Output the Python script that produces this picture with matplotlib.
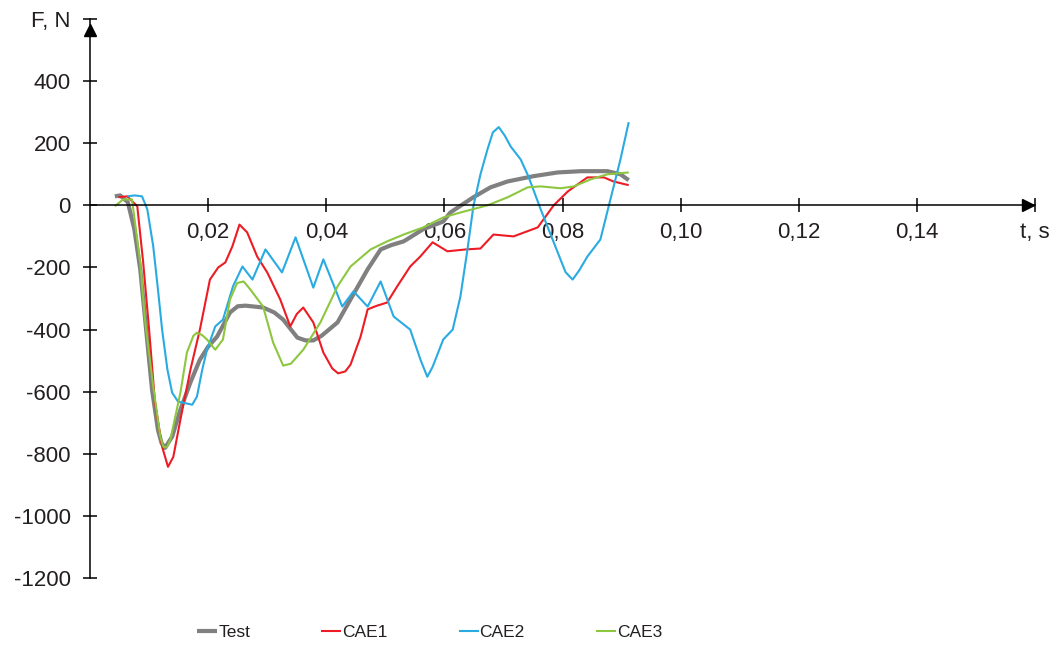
import matplotlib
matplotlib.use("Agg")
import matplotlib.pyplot as plt
from matplotlib.transforms import offset_copy

# ── data ────────────────────────────────────────────────────────────────────
test_t = [0.0042, 0.0051, 0.0064, 0.0075, 0.0085, 0.0095, 0.0105, 0.0115,
          0.0121, 0.0127, 0.0139, 0.0153, 0.0170, 0.0186, 0.0200, 0.0215,
          0.0237, 0.0250, 0.0263, 0.0293, 0.0312, 0.0327, 0.0351, 0.0365,
          0.0378, 0.0392, 0.0419, 0.0441, 0.0470, 0.0492, 0.0510, 0.0531,
          0.0564, 0.0598, 0.0610, 0.0649, 0.0678, 0.0707, 0.0751, 0.0792,
          0.0831, 0.0876, 0.0898, 0.0912]
test_f = [29, 32, 10, -77, -206, -400, -594, -723,
          -765, -781, -745, -658, -570, -497, -455, -423,
          -345, -325, -323, -329, -345, -368, -426, -435,
          -435, -420, -377, -303, -206, -142, -128, -116,
          -77, -52, -23, 26, 58, 77, 94, 106,
          110, 110, 100, 81]

cae1_t = [0.0048, 0.0063, 0.0080, 0.0090, 0.0100, 0.0110, 0.0122, 0.0132,
          0.0141, 0.0153, 0.0170, 0.0186, 0.0203, 0.0217, 0.0229, 0.0241,
          0.0253, 0.0266, 0.0283, 0.0300, 0.0322, 0.0339, 0.0350, 0.0361,
          0.0378, 0.0395, 0.0410, 0.0420, 0.0432, 0.0441, 0.0458, 0.0470,
          0.0486, 0.0503, 0.0520, 0.0542, 0.0559, 0.0580, 0.0605, 0.0636,
          0.0661, 0.0683, 0.0717, 0.0758, 0.0785, 0.0809, 0.0842, 0.0870,
          0.0886, 0.0912]
cae1_f = [26, 29, -3, -184, -400, -635, -777, -842,
          -810, -690, -529, -400, -239, -200, -184, -132,
          -62, -87, -165, -216, -303, -390, -350, -329,
          -377, -474, -525, -541, -535, -513, -423, -335,
          -323, -313, -261, -197, -165, -119, -148, -142,
          -139, -94, -100, -71, 0, 45, 90, 90,
          77, 65]

cae2_t = [0.0063, 0.0076, 0.0088, 0.0097, 0.0107, 0.0115, 0.0122, 0.0131,
          0.0139, 0.0149, 0.0173, 0.0181, 0.0190, 0.0198, 0.0212, 0.0225,
          0.0242, 0.0258, 0.0275, 0.0297, 0.0325, 0.0348, 0.0378, 0.0395,
          0.0427, 0.0446, 0.0470, 0.0492, 0.0514, 0.0542, 0.0560, 0.0571,
          0.0580, 0.0598, 0.0614, 0.0627, 0.0639, 0.0649, 0.0661, 0.0673,
          0.0682, 0.0692, 0.0702, 0.0712, 0.0729, 0.0742, 0.0763, 0.0785,
          0.0805, 0.0817, 0.0828, 0.0842, 0.0864, 0.0881, 0.0898, 0.0912]
cae2_f = [29, 32, 29, -13, -132, -271, -400, -529,
          -603, -632, -642, -616, -529, -465, -390, -368,
          -261, -197, -239, -142, -216, -103, -265, -174,
          -326, -277, -326, -245, -358, -400, -500, -552,
          -520, -432, -400, -294, -142, -3, 100, 181,
          235, 252, 225, 190, 148, 94, -13, -119,
          -215, -239, -210, -165, -110, 19, 148, 268]

cae3_t = [0.0042, 0.0056, 0.0071, 0.0085, 0.0093, 0.0107, 0.0119, 0.0124,
          0.0130, 0.0136, 0.0153, 0.0164, 0.0175, 0.0181, 0.0190, 0.0198,
          0.0212, 0.0225, 0.0237, 0.0249, 0.0260, 0.0271, 0.0293, 0.0310,
          0.0327, 0.0340, 0.0361, 0.0390, 0.0419, 0.0441, 0.0475, 0.0503,
          0.0531, 0.0564, 0.0598, 0.0627, 0.0673, 0.0707, 0.0741, 0.0763,
          0.0797, 0.0819, 0.0848, 0.0876, 0.0912]
cae3_f = [-3, 19, 19, -184, -368, -584, -745, -777,
          -780, -755, -603, -474, -420, -410, -418, -432,
          -465, -432, -303, -250, -245, -270, -326, -442,
          -516, -510, -465, -377, -261, -197, -142, -116,
          -94, -71, -39, -23, 0, 26, 58, 61,
          55, 61, 84, 100, 106]

x_ticks = [0.02, 0.04, 0.06, 0.08, 0.10, 0.12, 0.14, 0.16]
x_labels = ["0,02", "0,04", "0,06", "0,08", "0,10", "0,12", "0,14", "t, s"]
y_ticks = [-1200, -1000, -800, -600, -400, -200, 0, 200, 400, 600]
y_labels = ["-1200", "-1000", "-800", "-600", "-400", "-200", "0", "200", "400", "F, N"]

series = [
    ("Test", test_t, test_f, "#808080", 3.0),
    ("CAE1", cae1_t, cae1_f, "#ed1c24", 1.5),
    ("CAE2", cae2_t, cae2_f, "#29abe2", 1.5),
    ("CAE3", cae3_t, cae3_f, "#8dc63f", 1.5),
]

# ── figure ──────────────────────────────────────────────────────────────────
plt.rcParams["font.family"] = ["Liberation Sans", "DejaVu Sans"]

fig = plt.figure(figsize=(10.53, 6.49), dpi=100)
ax = fig.add_axes([0.0855, 0.1094, 0.8975, 0.8613])

for name, t, f, col, lw in series:
    ax.plot(t, f, color=col, lw=lw, label=name,
            solid_capstyle="butt", solid_joinstyle="round")

ax.set_xlim(0, 0.16)
ax.set_ylim(-1200, 600)

for side in ("top", "right"):
    ax.spines[side].set_visible(False)
ax.spines["left"].set_position(("data", 0))
ax.spines["bottom"].set_position(("data", 0))
for side in ("left", "bottom"):
    ax.spines[side].set_linewidth(1.1)

ax.set_xticks(x_ticks)
ax.set_xticklabels(x_labels)
ax.set_yticks(y_ticks)
ax.set_yticklabels(y_labels)
ax.tick_params(axis="both", direction="inout", length=10, width=1.1,
               labelsize=16, labelcolor="#231f20")
ax.tick_params(axis="x", pad=7)
ax.tick_params(axis="y", pad=9)

# arrow heads
ax.plot(1, 0, ">k", ms=8, clip_on=False,
        transform=offset_copy(ax.get_yaxis_transform(), fig, x=-7, units="dots"))
ax.plot(0, 1, "^k", ms=8, clip_on=False,
        transform=offset_copy(ax.get_xaxis_transform(), fig, y=-11, units="dots"))

leg = fig.legend(loc="center", bbox_to_anchor=(0.408, 0.025), ncol=4,
                 frameon=False, handlelength=1.15, handletextpad=0.05,
                 columnspacing=4.1, prop={"size": 12.5})
for txt in leg.get_texts():
    txt.set_color("#231f20")

fig.savefig("out.png", dpi=100)
